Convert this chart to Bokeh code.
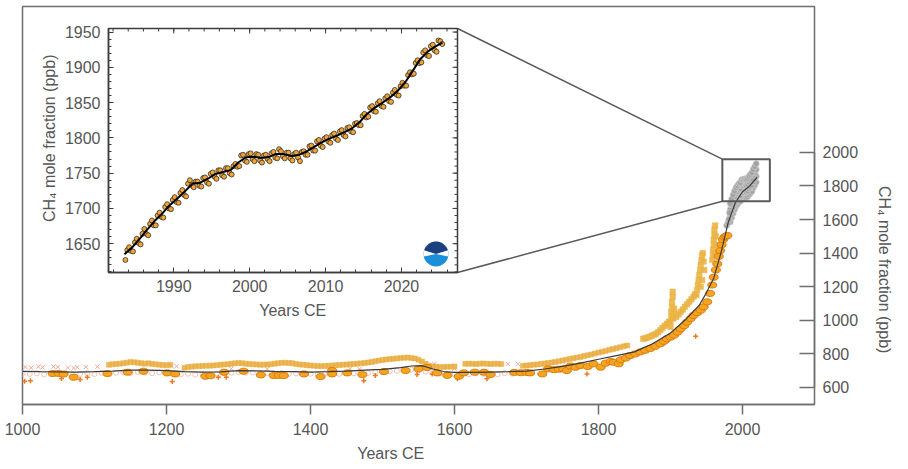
from bokeh.plotting import figure
from bokeh.models import Range1d, FixedTicker, Title
from bokeh.layouts import column
from bokeh.embed import file_html
from bokeh.resources import INLINE

# ------------------------------------------------------------------ data
main_xticks = [1000, 1200, 1400, 1600, 1800, 2000]
main_yticks = [600, 800, 1000, 1200, 1400, 1600, 1800, 2000]
inset_xticks = [1990, 2000, 2010, 2020]
inset_yticks = [1650, 1700, 1750, 1800, 1850, 1900, 1950]
x_title = "Years CE"
y_title = "CH\u2084 mole fraction (ppb)"

# smoothed composite curve
line_years = [1000, 1025, 1050, 1075, 1100, 1125, 1150, 1175, 1200, 1225, 1250, 1275, 1300, 1325,
              1350, 1375, 1400, 1425, 1450, 1475, 1500, 1525, 1540, 1555, 1570, 1585, 1600, 1625,
              1650, 1675, 1700, 1725, 1750, 1775, 1800, 1825, 1850, 1875, 1900, 1920, 1940, 1950,
              1960, 1970, 1980, 1990, 2000, 2010, 2020]
line_ppb = [696, 694, 693, 692, 694, 698, 703, 704, 700, 695, 691, 693, 700, 699, 696, 694, 691,
            694, 698, 703, 708, 718, 728, 730, 710, 695, 690, 690, 692, 694, 698, 710, 726, 745,
            768, 790, 812, 860, 925, 1000, 1090, 1165, 1250, 1400, 1580, 1700, 1765, 1800, 1850]

# high-resolution (goldenrod) record
upper1_start, upper1_ppb = 1120, [735, 738, 740, 742, 745, 748, 752, 750, 748, 745, 742, 744, 740,
                                  738, 736, 734, 733, 735]
upper2_start, upper2_ppb = 1225, [718, 722, 724, 726, 727, 728, 729, 730, 731, 733,
                                  735, 737, 739, 741, 744, 746, 745, 742, 740, 738,
                                  737, 736, 736, 737, 739, 742, 745, 747, 748, 746,
                                  744, 740, 737, 735, 733, 731, 729, 728, 727, 728,
                                  729, 731, 733, 734, 735, 737, 738, 740, 742, 744,
                                  746, 749, 752, 756, 760, 764, 767, 769, 771, 773,
                                  775, 777, 778, 776, 772, 765, 755, 740, 730, 725,
                                  723, 722, 722, 723, 724, 725]
upper3_start, upper3_ppb = 1615, [741, 742, 741, 740, 742, 743, 741, 740, 742, 741, 740]
upper4_start, upper4_ppb = 1695, [730, 731, 733, 735, 737, 740, 743, 746, 749, 752,
                                  756, 760, 765, 770, 774, 778, 782, 787, 792, 797,
                                  802, 808, 813, 818, 824, 829, 834, 839, 845, 850]
late_years = [1862, 1865, 1868, 1871, 1874, 1877, 1880, 1883, 1886, 1889, 1892, 1895, 1898,
              1900, 1900, 1901, 1901, 1902, 1902, 1903, 1903, 1904, 1905, 1905,
              1908, 1911, 1914, 1917, 1920, 1923, 1926, 1929, 1932, 1934,
              1936, 1937, 1938, 1939, 1940, 1941, 1942, 1943, 1944, 1945, 1946, 1947, 1944, 1942,
              1958, 1959, 1959, 1960, 1960, 1961, 1961, 1962, 1962, 1963, 1963]
late_ppb = [890, 893, 897, 902, 908, 914, 920, 930, 942, 955, 968, 980, 992,
            960, 990, 1020, 1050, 1080, 1110, 1140, 1170, 1010, 1040, 1070,
            1020, 1035, 1050, 1065, 1080, 1095, 1110, 1125, 1140, 1155,
            1150, 1180, 1210, 1240, 1270, 1300, 1330, 1360, 1390, 1400, 1350, 1300, 1240, 1200,
            1360, 1390, 1420, 1450, 1480, 1510, 1540, 1565, 1400, 1450, 1500]

# ice-core record (orange)
ice_years = [1042, 1050, 1057, 1071, 1118, 1146, 1168, 1201, 1212, 1254,
             1261, 1280, 1307, 1331, 1349, 1356, 1363, 1391, 1414, 1430,
             1430, 1451, 1472, 1502, 1532, 1550, 1562, 1576, 1590, 1606,
             1613, 1628, 1641, 1650, 1683, 1692, 1700, 1705, 1722, 1730,
             1738, 1745, 1751, 1756, 1761, 1768, 1775, 1785, 1793, 1803,
             1810, 1817, 1821, 1828, 1831, 1838, 1844, 1851, 1858, 1865,
             1872, 1879, 1886, 1891, 1895, 1900, 1905, 1910, 1914, 1919,
             1923, 1928, 1932, 1937, 1942, 1946, 1951, 1955, 1958, 1960,
             1963, 1965, 1967, 1969, 1971, 1973, 1975, 1977, 1979]
ice_ppb = [683, 684, 680, 661, 683, 691, 697, 687, 681, 667,
           670, 691, 697, 675, 671, 672, 671, 681, 665, 701,
           681, 687, 677, 695, 701, 711, 719, 687, 672, 667,
           687, 691, 691, 677, 690, 688, 690, 687, 681, 711,
           706, 709, 711, 701, 728, 720, 731, 725, 741, 721,
           745, 755, 750, 741, 765, 775, 790, 800, 812, 822,
           832, 845, 860, 875, 890, 900, 912, 930, 949, 968,
           989, 1010, 1029, 1045, 1060, 1080, 1110, 1160, 1210, 1256,
           1300, 1336, 1380, 1415, 1450, 1480, 1495, 1500, 1505]

# other low-resolution records
plus_years = [1003, 1011, 1054, 1080, 1090, 1208, 1272, 1283, 1474, 1490, 1548, 1569, 1604, 1645, 1784, 1935]
plus_ppb = [637, 640, 654, 648, 661, 636, 661, 661, 640, 671, 677, 681, 652, 652, 681, 905]
xm_years = [1004, 1012, 1022, 1028, 1043, 1049, 1063, 1071, 1076, 1088, 1104, 1207, 1214, 1290,
            1340, 1455, 1468, 1560, 1572, 1600, 1674, 1688]
xm_ppb = [722, 718, 724, 720, 724, 722, 718, 716, 720, 722, 724, 728, 726, 712,
          710, 712, 710, 745, 740, 712, 741, 741]
pinkc_start, pinkc_ppb = 1000, [683, 680, 684, 678, 682, 679, 684, 677, 681, 685,
                                680, 686, 683, 688, 690, 686, 692, 689, 685, 690,
                                684, 680, 678, 682, 677, 680, 676, 683, 686, 689,
                                692, 688, 690, 684, 687, 682, 686, 681, 684, 679,
                                682, 678, 684, 686, 681, 688, 684, 690, 686, 693,
                                690, 696, 699, 703, 706, 702, 694, 688, 684, 680,
                                678, 682, 679, 684, 680, 683, 679, 685, 682, 686,
                                688]

# modern station network (grey)
gray_years = [1983, 1985, 1987, 1989, 1991, 1993, 1995, 1997, 1999, 2001, 2003, 2005, 2007,
              2009, 2011, 2013, 2015, 2017, 2019]
gray_south = [1585, 1612, 1637, 1660, 1679, 1691, 1704, 1709, 1727, 1726, 1732, 1729, 1736,
              1748, 1758, 1768, 1789, 1805, 1822]
gray_low = [1620, 1647, 1672, 1695, 1714, 1726, 1739, 1744, 1762, 1761, 1767, 1764, 1771,
            1783, 1793, 1803, 1824, 1840, 1857]
gray_high = [1660, 1687, 1712, 1735, 1754, 1766, 1779, 1784, 1802, 1801, 1807, 1804, 1811,
             1823, 1833, 1843, 1864, 1880, 1897]
gray_north = [1695, 1722, 1747, 1770, 1789, 1801, 1814, 1819, 1837, 1836, 1842, 1839, 1846,
              1858, 1868, 1878, 1899, 1915, 1932]
gray_tail_years = [1978, 1980, 1981, 1982]
gray_tail_ppb = [1565, 1580, 1600, 1640]

# inset: NOAA global quarterly means, starting 1983.625
inset_start = 1983.625
inset_ppb = [1627, 1641,
             1645, 1640, 1639, 1652,   1657, 1651, 1649, 1664,   1671, 1664, 1662, 1678,
             1683, 1676, 1676, 1690,   1694, 1688, 1687, 1702,   1706, 1700, 1699, 1712,
             1716, 1709, 1708, 1722,   1726, 1719, 1717, 1735,   1740, 1733, 1730, 1738,
             1738, 1732, 1731, 1743,   1744, 1737, 1735, 1749,   1751, 1745, 1742, 1754,
             1754, 1747, 1745, 1757,   1757, 1750, 1748, 1760,   1763, 1759, 1760, 1775,
             1776, 1768, 1766, 1777,   1778, 1770, 1767, 1777,   1776, 1768, 1765, 1775,
             1776, 1770, 1767, 1778,   1780, 1772, 1771, 1784,   1781, 1774, 1771, 1779,
             1779, 1771, 1768, 1777,   1779, 1772, 1767, 1780,   1781, 1776, 1776, 1788,
             1789, 1782, 1782, 1795,   1797, 1789, 1787, 1799,   1801, 1795, 1793, 1804,
             1806, 1799, 1797, 1809,   1811, 1804, 1802, 1814,   1815, 1809, 1808, 1820,
             1821, 1818, 1818, 1831,   1834, 1829, 1830, 1843,   1845, 1838, 1837, 1849,
             1852, 1845, 1844, 1856,   1859, 1852, 1851, 1864,   1868, 1861, 1860, 1873,
             1878, 1874, 1874, 1889,   1893, 1890, 1891, 1906,   1910, 1906, 1907, 1921,
             1924, 1917, 1916, 1930,   1932, 1924, 1922, 1938,
             1937, 1933]
trend_years = [1983.5] + [y + 0.5 for y in range(1984, 2025)] + [2025.4]
trend_ppb = [1635, 1644.5, 1657, 1670, 1682.5, 1693, 1705, 1714.5, 1724.5, 1735.5, 1736.5, 1742.1,
             1748.9, 1751.6, 1754.3, 1765.1, 1772.5, 1773.3, 1771.4, 1772.8, 1777.3, 1777.0,
             1774.2, 1775.9, 1780.9, 1787.1, 1793.5, 1798.9, 1803.1, 1808.1, 1813.5, 1822.5,
             1834.3, 1842.8, 1849.7, 1857.3, 1866.6, 1878.9, 1895.3, 1911.8, 1922.6, 1929.7, 1935]

# zoom box on the main panel (data units)
box_left, box_right, box_bottom, box_top = 1972, 2038, 1709, 1959

# ------------------------------------------------------------------ style
FONT = "Liberation Sans"
TXT = "#565656"
FRAME = "#6e6e6e"
DARK = "#3c3c3c"
X_TITLE_W = 68.5     # rendered length of "Years CE" at 16px
Y_TITLE_L = 168      # rendered length of the CH4 title at 16px

# ------------------------------------------------------------------ main panel
W, H = 908, 469
ML, MR, MT, MB = 22, 94, 6, 65
FW, FH = W - ML - MR, H - MT - MB
X0, X1 = 1000, 2100
Y0, Y1 = 498.8, 2868


def main_x(px):
    return X0 + (px - ML) * (X1 - X0) / FW


def main_y(py):
    return Y0 + (MT + FH - py) * (Y1 - Y0) / FH


def px_y(v):
    return MT + FH - (v - Y0) * FH / (Y1 - Y0)


p = figure(width=W, height=H, x_range=Range1d(X0, X1), y_range=Range1d(Y0, Y1),
           output_backend="svg", toolbar_location=None, y_axis_location="right",
           min_border_left=ML, min_border_right=MR, min_border_top=MT, min_border_bottom=MB,
           frame_align=False)
p.grid.visible = False
p.outline_line_color = FRAME
p.outline_line_width = 1.5
p.border_fill_color = "white"

xa = p.xaxis[0]
xa.ticker = FixedTicker(ticks=main_xticks, minor_ticks=[])
xa.major_tick_out = 10
xa.major_tick_in = 0
xa.major_label_standoff = 8

ya = p.yaxis[0]
ya.ticker = FixedTicker(ticks=main_yticks, minor_ticks=[])
ya.bounds = (600, 2000)
ya.major_tick_in = 15
ya.major_tick_out = 0
ya.major_label_standoff = 8

for ax in (xa, ya):
    ax.axis_line_color = FRAME
    ax.axis_line_width = 1.5
    ax.major_tick_line_color = FRAME
    ax.major_tick_line_width = 1.5
    ax.major_label_text_font = FONT
    ax.major_label_text_font_size = "16px"
    ax.major_label_text_color = TXT

title_kw = dict(text_font=FONT, text_font_size="16px", text_color=TXT,
                text_font_style="normal", align="left")
# axis titles, centred on the labelled stretch of each axis as in the original
p.add_layout(Title(text=x_title, offset=391 - X_TITLE_W / 2 - ML, standoff=10, **title_kw), "below")
p.add_layout(Title(text=y_title, offset=px_y((600 + 2000) / 2) - Y_TITLE_L / 2 - MT, standoff=28,
                   **title_kw), "right")

# faint records
p.scatter(list(range(pinkc_start, pinkc_start + 10 * len(pinkc_ppb), 10)), pinkc_ppb,
          marker="circle", size=5, fill_alpha=0, line_color="#f5c4b2", line_width=1)
p.scatter(xm_years, xm_ppb, marker="x", size=6, line_color="#f0a894", line_width=1)

# goldenrod high-resolution record
for start, vals in ((upper1_start, upper1_ppb), (upper2_start, upper2_ppb),
                    (upper3_start, upper3_ppb), (upper4_start, upper4_ppb)):
    p.scatter(list(range(start, start + 5 * len(vals), 5)), vals, marker="square", size=5,
              fill_color="#eaad40", line_color="#eaad40", line_width=0.5, alpha=0.85)
p.scatter(late_years, late_ppb, marker="square", size=5.5,
          fill_color="#ebb444", line_color="#ebb444", line_width=0.5, alpha=0.9)

# small plus record
p.scatter(plus_years, plus_ppb, marker="cross", size=5, line_color="#f07822", line_width=1.5)

# ice cores
p.ellipse(ice_years, ice_ppb, width=9, height=6, width_units="screen", height_units="screen",
          fill_color="#f4a51f", line_color="#dc7a12", line_width=1)

# modern network
gray_kw = dict(marker="circle", size=6, fill_color="#a2a2a2", line_color="#cacaca", line_width=0.8)
for vals in (gray_south, gray_low, gray_high, gray_north):
    p.scatter(gray_years, vals, **gray_kw)
p.scatter(gray_tail_years, gray_tail_ppb, **gray_kw)

# smooth curve
p.line(line_years, line_ppb, line_color="#3a3a3a", line_width=1.2)

# inset placement (page pixels; the page is rendered without body margin)
INSET_LEFT, INSET_TOP = 30, 12
IL, IR, IT, IB = 78, 5, 16, 58
IFW, IFH = 349, 244
IW, IH = IL + IFW + IR, IT + IFH + IB
inset_frame_left = INSET_LEFT + IL
inset_frame_right = inset_frame_left + IFW
inset_frame_top = INSET_TOP + IT
inset_frame_bottom = inset_frame_top + IFH

p.segment(x0=[main_x(inset_frame_right), main_x(inset_frame_right)],
          y0=[main_y(inset_frame_top), main_y(inset_frame_bottom)],
          x1=[box_left, box_left], y1=[box_top, box_bottom],
          line_color="#5a5a5a", line_width=1.5)
p.quad(left=[box_left], right=[box_right], bottom=[box_bottom], top=[box_top],
       fill_alpha=0, line_color="#5a5a5a", line_width=2)

# ------------------------------------------------------------------ inset
PX_PER_YEAR = 7.59
PX_PER_PPB = 0.7056
IX0 = 1981.4
IX1 = IX0 + IFW / PX_PER_YEAR
IY0 = 1609.2
IY1 = IY0 + IFH / PX_PER_PPB


def inset_x(px):
    return IX0 + (px - inset_frame_left) / PX_PER_YEAR


def inset_y(py):
    return IY0 + (inset_frame_bottom - py) / PX_PER_PPB


q = figure(width=IW, height=IH, x_range=Range1d(IX0, IX1), y_range=Range1d(IY0, IY1),
           output_backend="svg", toolbar_location=None, frame_align=False,
           min_border_left=IL, min_border_right=IR, min_border_top=IT, min_border_bottom=IB)
q.grid.visible = False
q.outline_line_color = DARK
q.outline_line_width = 1.5
q.background_fill_color = "white"
q.border_fill_alpha = 0
q.styles = {"position": "absolute", "left": f"{INSET_LEFT}px", "top": f"{INSET_TOP}px"}

x_minor = list(range(1982, 2028, 2))
y_minor = list(range(1610, 1956, 10))

qx = q.xaxis[0]
qx.ticker = FixedTicker(ticks=inset_xticks, minor_ticks=x_minor)
qx.major_label_standoff = 7
qy = q.yaxis[0]
qy.ticker = FixedTicker(ticks=inset_yticks, minor_ticks=y_minor)
qy.major_label_standoff = 8

for ax in (qx, qy):
    ax.axis_line_color = DARK
    ax.axis_line_width = 1.5
    ax.major_tick_in = 5
    ax.major_tick_out = 0
    ax.minor_tick_in = 3
    ax.minor_tick_out = 0
    ax.major_tick_line_color = DARK
    ax.minor_tick_line_color = DARK
    ax.major_label_text_font = FONT
    ax.major_label_text_font_size = "16px"
    ax.major_label_text_color = TXT

q.add_layout(Title(text=x_title, offset=293 - X_TITLE_W / 2 - inset_frame_left, standoff=10,
                   **title_kw), "below")
q.add_layout(Title(text=y_title, offset=inset_frame_bottom - (137.5 + Y_TITLE_L / 2), standoff=7,
                   **title_kw), "left")

# mirrored ticks on top and right edges of the inset
top_major = [t for t in inset_xticks]
top_minor = [t for t in x_minor if IX0 < t < IX1]
right_major = [t for t in inset_yticks if IY0 < t < IY1]
right_minor = [t for t in y_minor if IY0 < t < IY1]
q.segment(x0=top_major, x1=top_major, y0=[IY1] * len(top_major),
          y1=[IY1 - 5 / PX_PER_PPB] * len(top_major), line_color=DARK, line_width=1)
q.segment(x0=top_minor, x1=top_minor, y0=[IY1] * len(top_minor),
          y1=[IY1 - 3 / PX_PER_PPB] * len(top_minor), line_color=DARK, line_width=1)
q.segment(x0=[IX1] * len(right_major), x1=[IX1 - 5 / PX_PER_YEAR] * len(right_major),
          y0=right_major, y1=right_major, line_color=DARK, line_width=1)
q.segment(x0=[IX1] * len(right_minor), x1=[IX1 - 3 / PX_PER_YEAR] * len(right_minor),
          y0=right_minor, y1=right_minor, line_color=DARK, line_width=1)

inset_t = [inset_start + 0.25 * i for i in range(len(inset_ppb))]
q.scatter(inset_t, inset_ppb, marker="circle", size=5, fill_color="#eea53a",
          line_color="#1e1e1e", line_width=0.7)
q.line(trend_years, trend_ppb, line_color="black", line_width=2)

# NOAA emblem
logo_x, logo_y = inset_x(435.5), inset_y(253.5)
q.scatter([logo_x], [logo_y], marker="circle", size=25, fill_color="#1a8fda", line_color=None)
q.wedge([logo_x], [logo_y], radius=12.5, radius_units="screen", start_angle=-0.2,
        end_angle=3.3416, fill_color="white", line_color=None)
q.wedge([logo_x], [logo_y], radius=12.5, radius_units="screen", start_angle=0.3,
        end_angle=2.8416, fill_color="#1c3f80", line_color=None)

layout = column(p, q, styles={"position": "relative"})
open("out.html", "w").write(file_html(layout, INLINE))
